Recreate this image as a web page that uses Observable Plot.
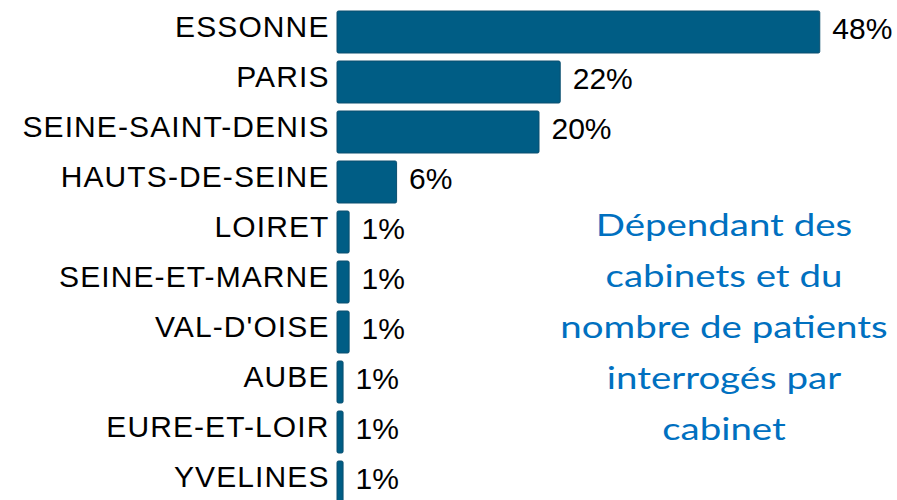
<!DOCTYPE html>
<html>
<head>
<meta charset="utf-8">
<script src="https://cdn.jsdelivr.net/npm/d3@7"></script>
<script src="https://cdn.jsdelivr.net/npm/@observablehq/plot@0.6"></script>
<style>
  html, body { margin: 0; padding: 0; background: #fff; }
  #wrap { position: relative; width: 897px; height: 500px; overflow: hidden; }
  #note {
    position: absolute; left: 554px; top: 199px; width: 340px;
    text-align: center; color: #0070C0;
    font-family: Lato, "Open Sans", sans-serif; font-size: 31px; line-height: 51px;
    transform: scaleX(1.24); transform-origin: 170px 0;
  }
  #chart svg g[aria-label="y-axis tick label"] text { letter-spacing: 1.1px; }
</style>
</head>
<body>
<div id="wrap"><div id="chart"></div><div id="note"></div></div>
<script>
const departements = ["ESSONNE", "PARIS", "SEINE-SAINT-DENIS", "HAUTS-DE-SEINE", "LOIRET",
  "SEINE-ET-MARNE", "VAL-D'OISE", "AUBE", "EURE-ET-LOIR", "YVELINES"];
const parts = [47.8, 22.1, 20.0, 5.9, 1.2, 1.2, 1.2, 0.6, 0.6, 0.6];
const noteLines = ["Dépendant des", "cabinets et du", "nombre de patients", "interrogés par", "cabinet"];

const data = departements.map((d, i) => ({dep: d, v: parts[i]}));

const chart = Plot.plot({
  width: 897,
  height: 500,
  marginLeft: 337,
  marginRight: 0,
  marginTop: 7,
  marginBottom: 0,
  style: {fontFamily: "'Liberation Sans', Arial, sans-serif", color: "#000", background: "#fff"},
  x: {domain: [0, 50], range: [337, 842], axis: null},
  y: {domain: departements, range: [7, 507], paddingInner: 0.16, paddingOuter: 0.08, label: null},
  marks: [
    Plot.barX(data, {x: "v", y: "dep", fill: "#005D85", stroke: "#0A4E6E", strokeWidth: 1, rx: 1.5}),
    Plot.text(data, {x: "v", y: "dep", text: d => Math.round(d.v) + "%", textAnchor: "start",
      dx: 12, dy: -3, fontSize: 30, fill: "#000"}),
    Plot.axisY({tickSize: 0, tickPadding: 8, fontSize: 30, dy: -5, label: null, fill: "#000"})
  ]
});
document.getElementById("chart").appendChild(chart);
document.getElementById("note").innerHTML = noteLines.join("<br>");
</script>
</body>
</html>
